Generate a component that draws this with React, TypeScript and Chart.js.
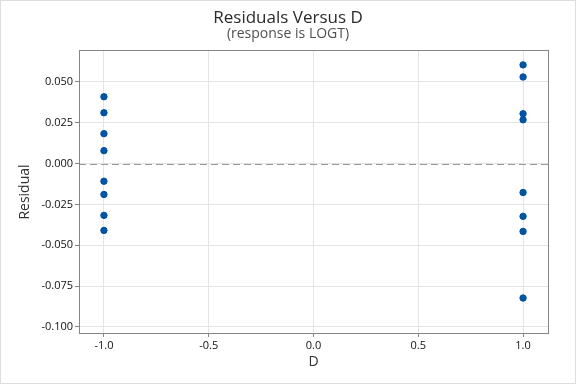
import React, { useEffect, useRef } from "react";
import { Chart, registerables } from "chart.js";

Chart.register(...registerables);

const titleText = "Residuals Versus D";
const subtitleText = "(response is LOGT)";
const xTitle = "D";
const yTitle = "Residual";

const dLeft = [-1, -1, -1, -1, -1, -1, -1, -1];
const residLeft = [0.0409, 0.0311, 0.0183, 0.0079, -0.0108, -0.0189, -0.0317, -0.0409];
const dRight = [1, 1, 1, 1, 1, 1, 1, 1];
const residRight = [0.0604, 0.053, 0.0305, 0.0268, -0.0177, -0.0323, -0.0415, -0.0823];

const xTicks = [-1, -0.5, 0, 0.5, 1];
const yTicks = [-0.1, -0.075, -0.05, -0.025, 0, 0.025, 0.05];

const FONT = "'Open Sans', 'Noto Sans', sans-serif";

export default function App() {
  const ref = useRef<HTMLCanvasElement | null>(null);
  useEffect(() => {
    document.body.style.margin = "0";
    const points = [
      ...dLeft.map((d, i) => ({ x: d, y: residLeft[i] })),
      ...dRight.map((d, i) => ({ x: d, y: residRight[i] })),
    ];
    const deco = {
      id: "deco",
      beforeDatasetsDraw(chart: any) {
        const { ctx, chartArea: a, scales } = chart;
        const y0 = scales.y.getPixelForValue(0);
        ctx.save();
        ctx.strokeStyle = "#999999";
        ctx.lineWidth = 1;
        ctx.setLineDash([7, 4]);
        ctx.beginPath();
        ctx.moveTo(a.left, Math.round(y0) + 0.5);
        ctx.lineTo(a.right, Math.round(y0) + 0.5);
        ctx.stroke();
        ctx.restore();
      },
      afterDraw(chart: any) {
        const { ctx, chartArea: a, width, height } = chart;
        ctx.save();
        ctx.strokeStyle = "#858585";
        ctx.lineWidth = 1;
        ctx.strokeRect(Math.round(a.left) + 0.5, Math.round(a.top) - 0.5, Math.round(a.right - a.left), Math.round(a.bottom - a.top) + 1);
        ctx.strokeStyle = "#dddddd";
        ctx.strokeRect(0.5, 0.5, width - 1, height - 1);
        ctx.fillStyle = "#2b2b2b";
        ctx.textAlign = "center";
        ctx.textBaseline = "middle";
        ctx.font = `500 17px ${FONT}`;
        ctx.fillText(titleText, width / 2, 18);
        ctx.fillStyle = "#505050";
        ctx.font = `500 14px ${FONT}`;
        ctx.fillText(subtitleText, width / 2, 34);
        ctx.fillStyle = "#333333";
        ctx.font = `500 14px ${FONT}`;
        ctx.fillText(xTitle, (a.left + a.right) / 2, 362);
        ctx.translate(25, (a.top + a.bottom) / 2);
        ctx.rotate(-Math.PI / 2);
        ctx.fillText(yTitle, 0, 0);
        ctx.restore();
      },
    };
    const chart = new Chart(ref.current!, {
      type: "scatter",
      data: {
        datasets: [
          {
            data: points,
            backgroundColor: "#0055A5",
            borderColor: "#0050A0",
            borderWidth: 1,
            pointRadius: 3.2,
          },
        ],
      },
      options: {
        animation: false,
        responsive: false,
        layout: { padding: { top: 51, right: 28, left: 0, bottom: 0 } },
        plugins: { legend: { display: false }, tooltip: { enabled: false } },
        scales: {
          x: {
            type: "linear",
            min: -1.119,
            max: 1.119,
            afterFit(s: any) { s.height = 51; },
            afterBuildTicks(s: any) { s.ticks = xTicks.map((v) => ({ value: v })); },
            ticks: {
              font: { family: FONT, size: 11 },
              color: "#111111",
              padding: 2,
              callback: (v: any) => Number(v).toFixed(1),
            },
            grid: { color: "#e4e4e4", tickColor: "#858585", tickLength: 4 },
            border: { color: "#858585" },
          },
          y: {
            type: "linear",
            min: -0.1037,
            max: 0.0689,
            afterFit(s: any) { s.width = 79; },
            afterBuildTicks(s: any) { s.ticks = yTicks.map((v) => ({ value: v })); },
            ticks: {
              font: { family: FONT, size: 11 },
              color: "#111111",
              padding: 2,
              callback: (v: any) => Number(v).toFixed(3),
            },
            grid: { color: "#e4e4e4", tickColor: "#858585", tickLength: 4 },
            border: { color: "#858585" },
          },
        },
      },
      plugins: [deco],
    } as any);
    return () => chart.destroy();
  }, []);
  return (
    <div style={{ position: "absolute", left: 0, top: 0, width: 576, height: 384 }}>
      <canvas ref={ref} width={576} height={384} style={{ width: 576, height: 384 }} />
    </div>
  );
}
